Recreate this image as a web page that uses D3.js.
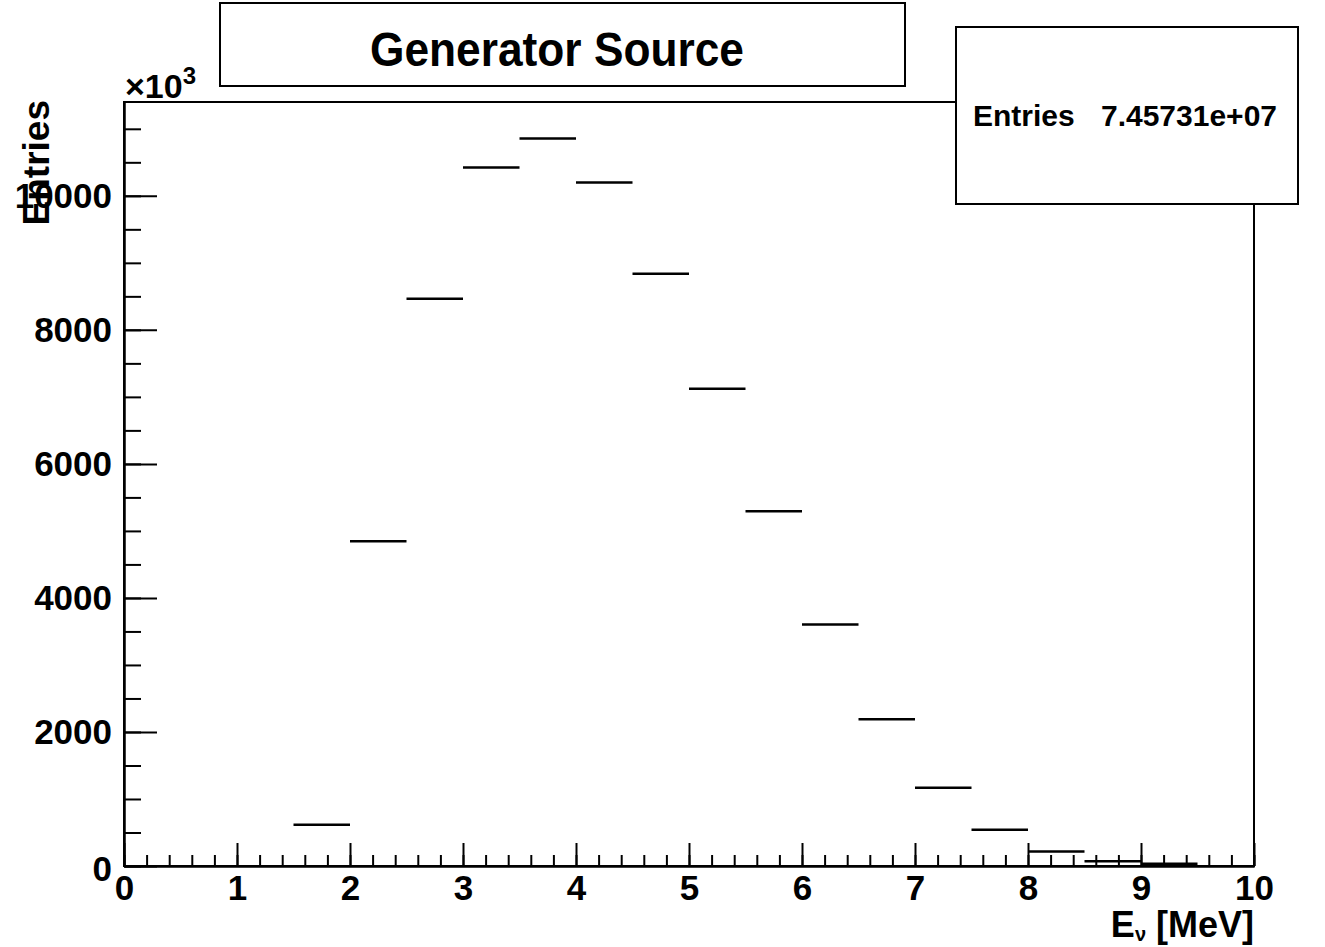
<!DOCTYPE html>
<html>
<head>
<meta charset="utf-8">
<script src="https://cdn.jsdelivr.net/npm/d3@7"></script>
<style>
  body { margin: 0; background: #fff; }
  text { font-family: "Liberation Sans", Arial, Helvetica, sans-serif; font-weight: bold; fill: #000; }
</style>
</head>
<body>
<script>
// histogram bins (lower edge, MeV), width 0.5
var binLow = [0, 0.5, 1, 1.5, 2, 2.5, 3, 3.5, 4, 4.5, 5, 5.5, 6, 6.5, 7, 7.5, 8, 8.5, 9, 9.5];
var binWidth = 0.5;
// entries per bin, in units of 10^3
var counts = [0, 0, 0, 616, 4846, 8463, 10422, 10855, 10197, 8837, 7123, 5294, 3605, 2190, 1169, 541, 217, 72, 33, 0];
var xTicks = [0, 1, 2, 3, 4, 5, 6, 7, 8, 9, 10];
var yTicks = [0, 2000, 4000, 6000, 8000, 10000];
var titleText = 'Generator Source';
var statsLabel = 'Entries';
var statsValue = '7.45731e+07';

var W = 1325, H = 947;
// plot frame in pixels (note: "top" is a reserved window property)
var frameL = 124, frameR = 1254, frameT = 102, frameB = 866;

var svg = d3.select('body').append('svg').attr('width', W).attr('height', H);

var x = d3.scaleLinear().domain([0, 10]).range([frameL, frameR]);
var y = d3.scaleLinear().domain([0, 11400]).range([frameB, frameT]);

// frame
svg.append('rect')
  .attr('x', frameL).attr('y', frameT)
  .attr('width', frameR - frameL).attr('height', frameB - frameT)
  .attr('fill', 'none').attr('stroke', '#000').attr('stroke-width', 2);

// x axis: minor ticks every 0.2, major every 1 (inward)
var xMinor = svg.append('g').attr('transform', 'translate(0,' + frameB + ')')
  .call(d3.axisBottom(x).tickValues(d3.range(0, 10.01, 0.2)).tickSizeInner(-11).tickSizeOuter(0).tickFormat(''));
var xMajor = svg.append('g').attr('transform', 'translate(0,' + frameB + ')')
  .call(d3.axisBottom(x).tickValues(xTicks).tickSizeInner(-23).tickSizeOuter(0).tickPadding(9).tickFormat(d3.format('d')));

// y axis: minor every 500, major every 2000 (inward)
var yMinor = svg.append('g').attr('transform', 'translate(' + frameL + ',0)')
  .call(d3.axisLeft(y).tickValues(d3.range(0, 11001, 500)).tickSizeInner(-17).tickSizeOuter(0).tickFormat(''));
var yMajor = svg.append('g').attr('transform', 'translate(' + frameL + ',0)')
  .call(d3.axisLeft(y).tickValues(yTicks).tickSizeInner(-33).tickSizeOuter(0).tickPadding(12).tickFormat(d3.format('d')));

[xMinor, xMajor, yMinor, yMajor].forEach(function(g){
  g.select('.domain').attr('stroke', '#000').attr('stroke-width', 2);
  g.selectAll('line').attr('stroke', '#000').attr('stroke-width', 2);
  g.selectAll('text').style('font-size', '35px').style('font-family', '"Liberation Sans", Arial, sans-serif').style('font-weight', 'bold');
});
// ROOT pushes the y "0" down a bit
yMajor.selectAll('text').filter(function(d){ return d === 0; }).attr('dy', '0.42em');

// histogram: one horizontal segment per bin
svg.append('g').selectAll('line')
  .data(counts.map(function(c, i){ return {lo: binLow[i], c: c}; }).filter(function(d){ return d.c > 0; }))
  .enter().append('line')
  .attr('x1', function(d){ return x(d.lo); })
  .attr('x2', function(d){ return x(d.lo + binWidth); })
  .attr('y1', function(d){ return y(d.c); })
  .attr('y2', function(d){ return y(d.c); })
  .attr('stroke', '#000').attr('stroke-width', 2.5);

// x10^3 exponent
var expo = svg.append('text').attr('x', 125).attr('y', 98).style('font-size', '34px');
expo.append('tspan').text('\u00d710');
expo.append('tspan').attr('dy', -14).style('font-size', '24px').text('3');

// y title
svg.append('text')
  .attr('transform', 'translate(49,' + (frameT - 2) + ') rotate(-90)')
  .attr('text-anchor', 'end')
  .style('font-size', '37px')
  .text('Entries');

// x title with subscript nu
var xt = svg.append('text').attr('x', frameR).attr('y', 937).attr('text-anchor', 'end').style('font-size', '36px');
xt.append('tspan').text('E');
xt.append('tspan').attr('dy', 4).style('font-size', '20px').text('\u03bd');
xt.append('tspan').attr('dy', -4).text(' [MeV]');

// title box
svg.append('rect').attr('x', 220).attr('y', 3).attr('width', 685).attr('height', 83)
  .attr('fill', '#fff').attr('stroke', '#000').attr('stroke-width', 2);
svg.append('text').attr('x', 557).attr('y', 66).attr('text-anchor', 'middle')
  .attr('textLength', 374).attr('lengthAdjust', 'spacingAndGlyphs')
  .style('font-size', '49px').text(titleText);

// stats box
svg.append('rect').attr('x', 956).attr('y', 27).attr('width', 342).attr('height', 177)
  .attr('fill', '#fff').attr('stroke', '#000').attr('stroke-width', 2);
svg.append('text').attr('x', 973).attr('y', 126).style('font-size', '30px').text(statsLabel);
svg.append('text').attr('x', 1277).attr('y', 126).attr('text-anchor', 'end').style('font-size', '30px').text(statsValue);
</script>
</body>
</html>
